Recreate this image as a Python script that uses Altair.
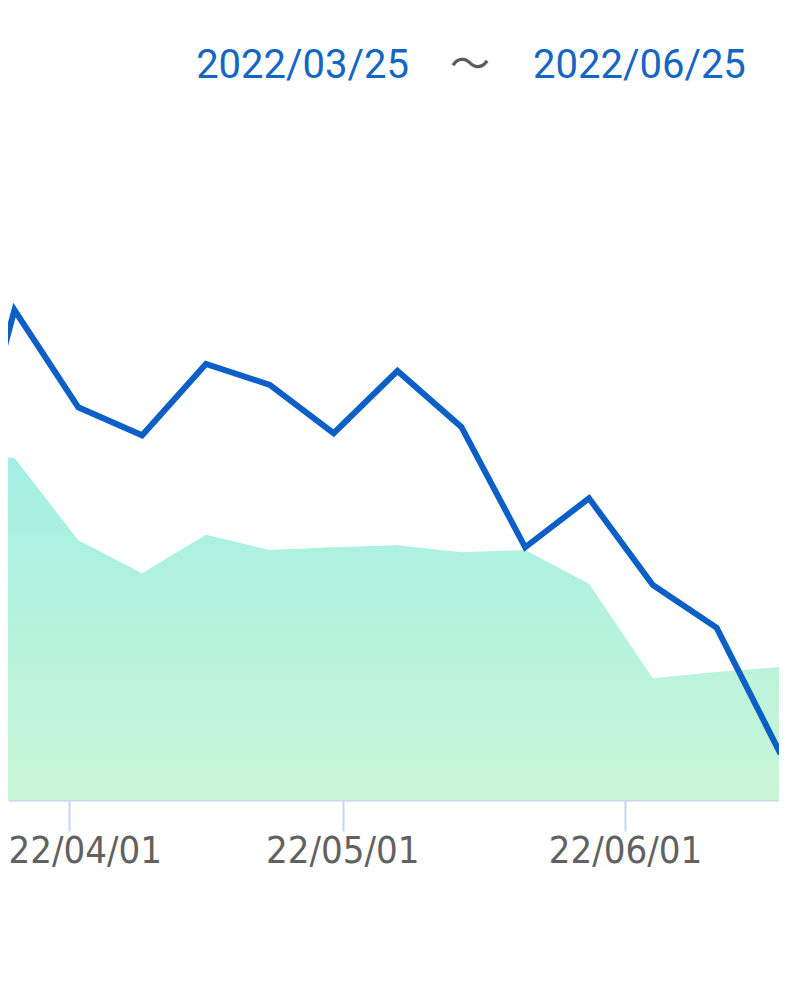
import altair as alt
import pandas as pd

# ---- data ----
dates = ["2022-03-19", "2022-03-26", "2022-04-02", "2022-04-09", "2022-04-16",
         "2022-04-23", "2022-04-30", "2022-05-07", "2022-05-14", "2022-05-21",
         "2022-05-28", "2022-06-04", "2022-06-11", "2022-06-18"]
line_values = [35.7, 70.0, 56.1, 52.1, 62.3, 59.3, 52.4, 61.3, 53.3, 36.1,
               43.1, 30.7, 24.6, 6.6]
area_values = [49.3, 48.9, 37.1, 32.4, 37.9, 35.7, 36.1, 36.4, 35.4, 35.7,
               30.9, 17.4, 18.3, 19.0]
tick_dates = ["2022-04-01", "2022-05-01", "2022-06-01"]
tick_labels = ["22/04/01", "22/05/01", "22/06/01"]
header_start = "2022/03/25"
header_sep = "～"
header_end = "2022/06/25"

df = pd.DataFrame({
    "date": [d + "T00:00:00" for d in dates],
    "line": line_values,
    "area": area_values,
})
ticks = pd.DataFrame({
    "date": [d + "T00:00:00" for d in tick_dates],
    "label": tick_labels,
})

x_scale = alt.Scale(domain=[alt.DateTime(year=2022, month=3, date=25, hours=7),
                            alt.DateTime(year=2022, month=6, date=17, hours=20)])
y_scale = alt.Scale(domain=[0, 100])

x_enc = alt.X(
    "date:T",
    scale=x_scale,
    axis=alt.Axis(
        values=[alt.DateTime(year=2022, month=int(d[5:7]), date=int(d[8:10])) for d in tick_dates],
        labels=False,
        title=None,
        grid=False,
        domainColor="#c9d5ea",
        domainWidth=2,
        tickColor="#c9d5ea",
        tickWidth=2,
        tickSize=31,
    ),
)

area = alt.Chart(df).mark_area(
    clip=True,
    color=alt.Gradient(
        gradient="linear",
        stops=[alt.GradientStop(color="#a2efe4", offset=0),
               alt.GradientStop(color="#caf6d6", offset=1)],
        x1=1, x2=1, y1=0, y2=1,
    ),
).encode(
    x=x_enc,
    y=alt.Y("area:Q", scale=y_scale, axis=None),
)

line = alt.Chart(df).mark_line(
    clip=True, color="#0b5fc6", strokeWidth=6, strokeJoin="miter"
).encode(
    x=alt.X("date:T", scale=x_scale),
    y=alt.Y("line:Q", scale=y_scale, axis=None),
)

label_style = dict(align="center", baseline="top", font="DejaVu Sans Condensed",
                   fontSize=38, color="#616161")
lab_first = alt.Chart(ticks.iloc[[0]]).mark_text(dx=16, **label_style).encode(
    x=alt.X("date:T", scale=x_scale), y=alt.value(733), text="label:N")
lab_rest = alt.Chart(ticks.iloc[1:]).mark_text(**label_style).encode(
    x=alt.X("date:T", scale=x_scale), y=alt.value(733), text="label:N")

hdr = pd.DataFrame({"t": [header_start, header_sep, header_end]})

h1 = alt.Chart(hdr.iloc[[0]]).mark_text(
    align="right", baseline="middle", font="Roboto", fontSize=40, color="#1366c2"
).encode(x=alt.value(401), y=alt.value(-34), text="t:N")
h2 = alt.Chart(hdr.iloc[[1]]).mark_text(
    align="center", baseline="middle", font="Noto Sans CJK JP", fontSize=40, color="#5a5a5a"
).encode(x=alt.value(462), y=alt.value(-34), text="t:N")
h3 = alt.Chart(hdr.iloc[[2]]).mark_text(
    align="left", baseline="middle", font="Roboto", fontSize=40, color="#1366c2"
).encode(x=alt.value(525), y=alt.value(-34), text="t:N")

chart = alt.layer(area, line, lab_first, lab_rest, h1, h2, h3).properties(
    width=771,
    height=700,
    autosize="none",
    padding={"left": 0, "top": 92, "right": 0, "bottom": 90},
).configure_view(stroke=None)

chart.save("out.html", embed_options={"renderer": "svg", "actions": False})
